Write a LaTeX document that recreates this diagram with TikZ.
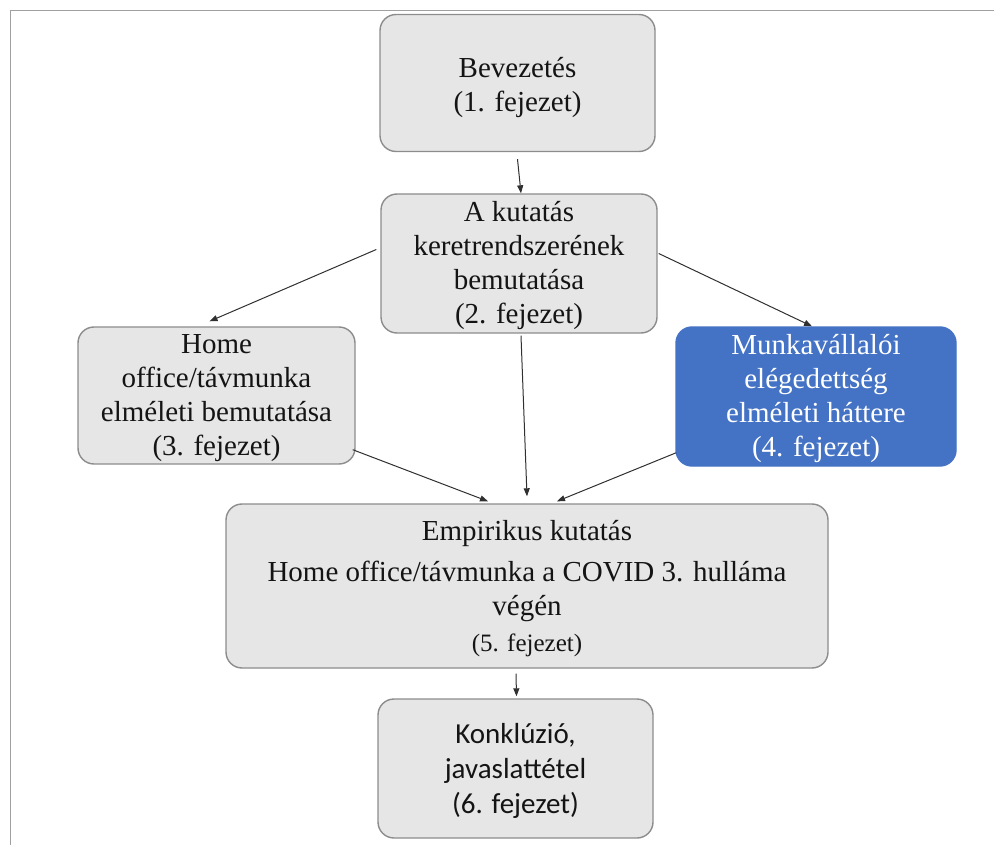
\documentclass[tikz,border=0pt]{standalone}
\usepackage{fontspec}
\setmainfont[Ligatures=NoCommon]{Liberation Serif}
\newfontfamily\calibrifont{Carlito}
\usetikzlibrary{arrows.meta}

\definecolor{boxfill}{HTML}{E6E6E6}
\definecolor{boxline}{HTML}{8C8C8C}
\definecolor{chapblue}{HTML}{4472C4}
\definecolor{framegray}{HTML}{A0A0A0}
\definecolor{arrowgray}{HTML}{303030}

% line struts: fixed ascent/descent so every line has the same height
\newcommand\serifstrut{\rule[-8pt]{0pt}{34pt}}
\newcommand\tallstrut{\rule[-8pt]{0pt}{40pt}}
\newcommand\smallstrut{\rule[-7pt]{0pt}{29.3pt}}
\newcommand\sansstrut{\rule[-7.8pt]{0pt}{35.4pt}}

\begin{document}
\begin{tikzpicture}[x=1pt,y=-1pt,
  chapter/.style={rectangle, rounded corners=16pt, draw=boxline, line width=1.4pt,
    fill=boxfill, inner sep=0pt, align=center, text=black!92,
    font=\fontsize{29}{34}\selectfont},
  highlight/.style={chapter, draw=chapblue, fill=chapblue, text=white},
  flow/.style={draw=arrowgray, line width=1pt, -{Triangle[length=8pt,width=6pt]}}
]
\useasboundingbox (0,0) rectangle (994,845);

% page frame
\draw[framegray, line width=1.5pt] (10.5,845) -- (10.5,10.5) -- (994,10.5);

% chapters
\node[chapter, minimum width=275pt, minimum height=137pt] (bev) at (517.5,83)
  {\tallstrut Bevezetés\\\serifstrut(1. fejezet)};
\node[chapter, minimum width=276pt, minimum height=139pt] (kut) at (519,263.5)
  {\serifstrut A kutatás\\\serifstrut keretrendszerének\\\serifstrut bemutatása\\\serifstrut(2. fejezet)};
\node[chapter, minimum width=277pt, minimum height=137pt] (home) at (216.5,395.5)
  {\serifstrut Home\\\serifstrut office/távmunka\\\serifstrut elméleti bemutatása\\\serifstrut(3. fejezet)};
\node[highlight, minimum width=280pt, minimum height=139pt] (munk) at (816,396.5)
  {\serifstrut Munkavállalói\\\serifstrut elégedettség\\\serifstrut elméleti háttere\\\serifstrut(4. fejezet)};
\node[chapter, minimum width=602pt, minimum height=164pt] (emp) at (527,586)
  {\serifstrut Empirikus kutatás\\[7pt]\serifstrut Home office/távmunka a COVID 3. hulláma\\\serifstrut végén\\[2pt]{\fontsize{25}{29.3}\selectfont\smallstrut(5. fejezet)}};
\node[chapter, minimum width=275pt, minimum height=139pt,
      font=\calibrifont\fontsize{29}{35.4}\selectfont] (konk) at (515.5,768.5)
  {\sansstrut Konklúzió,\\\sansstrut javaslattétel\\\sansstrut(6. fejezet)};

% connectors
\draw[flow] ([yshift=-7pt]bev.south) -- ([xshift=2pt]kut.north);
\draw[flow] ([shift={(-4pt,14pt)}]kut.west) -- ([shift={(-7pt,5pt)}]home.north);
\draw[flow] ([shift={(1pt,10pt)}]kut.east) -- ([shift={(-4pt,0pt)}]munk.north);
\draw[flow] ([shift={(2pt,-2pt)}]kut.south) -- ([shift={(0pt,7pt)}]emp.north);
\draw[flow] ([shift={(-3pt,15pt)}]home.south east) -- ([shift={(-39pt,2pt)}]emp.north);
\draw[flow] ([shift={(1pt,14pt)}]munk.south west) -- ([shift={(30pt,2pt)}]emp.north);
\draw[flow] ([shift={(-11pt,-5pt)}]emp.south) -- ([shift={(1pt,2pt)}]konk.north);
\end{tikzpicture}
\end{document}
